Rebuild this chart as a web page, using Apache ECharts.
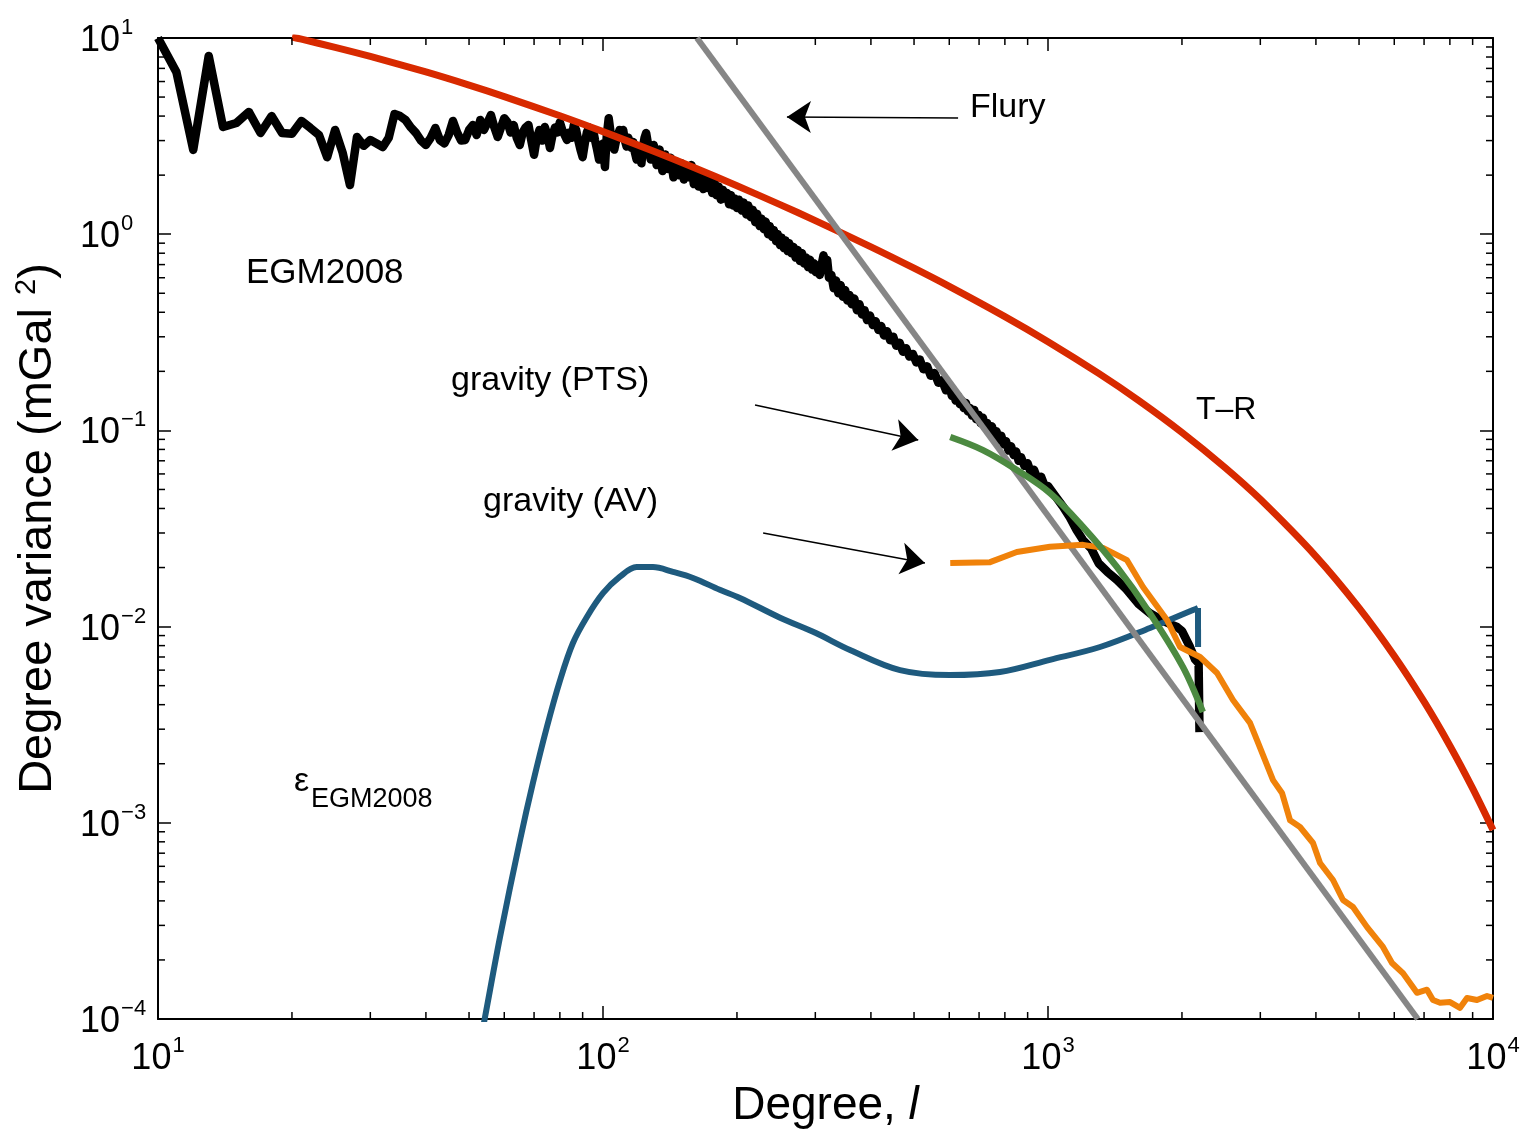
<!DOCTYPE html>
<html>
<head>
<meta charset="utf-8">
<script src="https://cdn.jsdelivr.net/npm/echarts@6.0.0/dist/echarts.min.js"></script>
<style>
html,body{margin:0;padding:0;background:#fff;}
#chart{width:1527px;height:1135px;}
</style>
</head>
<body>
<div id="chart"></div>
<script>
// ---------------- DATA ----------------
const X_MIN = 10, X_MAX = 10000;
const Y_MIN = 1e-4, Y_MAX = 10;

// EGM2008 degree variances [degree, mGal^2]
const egm2008 = [
 [10,10.0],[11,6.7],[12,2.69],[13,8.1],[14,3.52],[15,3.69],[16,4.2],[17,3.28],[18,4.0],[19,3.28],[20,3.25],
 [21,3.78],[22,3.48],[23,3.2],[24,2.47],[25,3.4],[26,2.6],[27,1.78],[28,3.13],[29,2.82],[30,3.02],[31,2.9],
 [32,2.78],[33,3.1],[34,4.1],[35,4.0],[36,3.82],[37,3.5],[38,3.28],[39,3.0],[40,2.85],[41,3.1],[42,3.48],
 [43,3.02],[44,2.9],[45,3.2],[46,3.78],[47,3.3],[48,3.0],[49,3.02],[50,3.4],[51,3.6],[52,3.2],[53,3.82],
 [54,3.4],[55,3.7],[56,4.05],[57,3.5],[58,3.13],[59,3.5],[60,3.9],[61,3.72],[62,3.3],[63,3.6],[64,3.1],
 [65,2.85],[66,3.3],[67,3.5],[68,3.6],[69,3.0],[70,2.54],[71,3.1],[72,3.4],[73,3.0],[74,3.52],[75,3.2],
 [76,2.75],[77,3.2],[78,3.5],[79,3.3],[80,3.72],[81,3.4],[82,3.2],[83,3.02],[84,3.3],[85,3.1],[86,3.6],
 [87,3.4],[88,3.0],[89,2.7],[90,2.47],[91,2.9],[92,3.3],[93,3.5],[94,3.1],[95,3.4],[96,3.0],[97,2.7],
 [98,2.4],[99,2.6],[100,2.9],[101,2.2],[102,3.2],[103,3.9],[104,3.3],[105,2.9],[106,2.7],[107,3.0],
 [108,3.2],[109,3.4],[110,3.1],[111,3.4],[112,3.0],[113,2.8],[114,3.1],[115,2.9],[116,2.75],[117,2.95],
 [118,2.6],[119,2.4],[120,2.7],[121,2.5],[122,2.3],[123,2.8],[124,3.1],[125,3.28],
 [126,2.95],[128,2.4],[130,2.85],[132,2.25],[134,2.7],[136,2.1],[138,2.55],[140,2.15],[142,2.45],[144,1.95],
 [146,2.35],[148,2.0],[150,2.3],[152,1.9],[154,2.2],[156,1.95],[158,2.25],[160,1.8],[162,2.1],[164,1.75],
 [166,2.05],[168,1.7],[170,1.98],[172,1.72],[174,1.92],[176,1.62],[178,1.85],[180,1.58],[182,1.75],
 [184,1.5],[186,1.68],[188,1.52],[190,1.62],[192,1.42],[194,1.58],[196,1.4],[198,1.52],[200,1.36],
 [202,1.5],[205,1.32],[207,1.45],[210,1.26],[212,1.4],[215,1.22],[217,1.33],[220,1.15],[222,1.27],
 [225,1.1],[227,1.2],[230,1.06],[232,1.16],[235,1.0],[237,1.1],[240,0.97],[242,1.05],[245,0.92],
 [247,1.0],[250,0.88],[252,0.96],[255,0.85],[257,0.93],[260,0.82],[262,0.9],[265,0.8],[268,0.86],
 [271,0.76],[274,0.83],[277,0.73],[280,0.8],[283,0.71],[286,0.76],[289,0.68],[292,0.74],[295,0.66],
 [298,0.71],[301,0.64],[304,0.69],[307,0.62],[310,0.7],[313,0.78],[316,0.7],[319,0.74],[322,0.6],
 [326,0.62],[330,0.53],[334,0.58],[338,0.5],[342,0.55],[346,0.48],[350,0.52],[354,0.46],[358,0.49],
 [362,0.44],[367,0.47],[372,0.41],[377,0.44],[382,0.39],[387,0.41],[392,0.365],[398,0.385],[404,0.345],
 [410,0.36],[416,0.325],[422,0.34],[428,0.305],[435,0.32],[442,0.288],[449,0.3],[456,0.27],[464,0.28],
 [472,0.252],[480,0.262],[488,0.238],[497,0.245],[506,0.222],[515,0.23],[525,0.205],[535,0.212],
 [545,0.19],[556,0.196],[567,0.175],[578,0.18],[590,0.16],[602,0.165],[608,0.15],[614,0.155],[620,0.142],
 [627,0.15],[634,0.136],[640,0.142],[647,0.13],[654,0.138],[661,0.125],[668,0.13],[675,0.119],[683,0.127],
 [690,0.114],[698,0.12],[706,0.109],[714,0.116],[722,0.104],[730,0.109],[739,0.099],[748,0.105],
 [757,0.094],[766,0.099],[775,0.089],[785,0.094],[795,0.085],[805,0.088],[815,0.079],[826,0.083],
 [837,0.075],[848,0.078],[859,0.07],[870,0.073],[885,0.066],[900,0.068],[915,0.061],[930,0.063],
 [948,0.056],[965,0.058],[983,0.052],[1000,0.052],[1040,0.046],[1080,0.041],[1120,0.036],
 [1160,0.031],[1199,0.0276],[1250,0.025],[1300,0.021],[1360,0.019],[1429,0.0173],[1500,0.0155],
 [1600,0.013],[1694,0.0117],[1800,0.0108],[1900,0.0102],[1950,0.00995],[2000,0.0095],[2085,0.00787],
 [2140,0.0068],[2180,0.0065],[2190,0.0029]
];

// Tscherning–Rapp model
const tscherningRapp = [
 [20,10.12],[21,9.861],[25,8.963],[30,8.057],[40,6.711],[50,5.751],[60,5.029],[80,4.014],[100,3.332],
 [130,2.646],[160,2.186],[200,1.766],[250,1.415],[300,1.173],[400,0.862],[500,0.671],[600,0.542],
 [800,0.380],[1000,0.2832],[1300,0.1952],[1600,0.1419],[2000,0.09763],[2500,0.06464],[3000,0.04454],
 [4000,0.02282],[5000,0.01246],[6000,0.007085],[7000,0.004142],[8000,0.002471],[9000,0.001498],
 [10000,0.000919]
];

// Flury power law (straight line in log-log)
const flury = [[162.6,10],[6776,1e-4]];

// Error degree variances of EGM2008 (last point: drop at the maximum degree)
const epsEGM2008 = [
 [52.5,6.8e-5],[54.3,1.02e-4],[58.7,2.62e-4],[65.1,8.17e-4],[69.6,1.60e-3],[74.8,3.08e-3],[80.1,5.34e-3],
 [85.6,8.25e-3],[92,1.12e-2],[100,1.48e-2],[109,1.79e-2],[119,2.01e-2],[129.5,2.01e-2],[143.6,1.90e-2],
 [159.3,1.77e-2],[183,1.54e-2],[203,1.40e-2],[250,1.11e-2],[300,9.3e-3],[359,7.6e-3],[465,6.0e-3],
 [602,5.66e-3],[780,5.87e-3],[1010,6.77e-3],[1309,7.87e-3],[1695,9.84e-3],[2118,1.216e-2],
 [2173,1.245e-2],[2174,7.87e-3]
];

// gravity (PTS)
const gravityPTS = [
 [603,0.0926],[714,0.0794],[851,0.0629],[1010,0.048],[1199,0.0322],[1429,0.0201],[1694,0.0117],
 [2010,0.00622],[2228,0.00367]
];

// gravity (AV)
const gravityAV = [
 [603,0.0211],[741,0.0213],[851,0.0240],[1010,0.0255],[1199,0.0261],[1329,0.0252],[1505,0.0218],
 [1635,0.0159],[1851,0.0108],[1980,0.00787],[2196,0.0070],[2398,0.0058],[2604,0.00423],[2844,0.00323],
 [2949,0.00264],[3204,0.00165],[3356,0.00142],[3499,0.00103],[3684,0.000952],[3940,0.000789],
 [4086,0.000624],[4370,0.000511],[4602,0.000404],[4846,0.000372],[5212,0.000294],[5659,0.000233],
 [5930,0.000193],[6278,0.000171],[6748,0.000136],[7107,0.000141],[7331,0.000125],[7603,0.000121],
 [8007,0.000122],[8432,0.000114],[8743,0.000128],[9205,0.000125],[9695,0.000131],[10000,0.000128]
];

// annotation arrows: [tail, head] in data coordinates
const arrowFlury = [[628,3.91],[259,3.96]];
const arrowPTS = [[219.6,0.1348],[511,0.0893]];
const arrowAV = [[229,0.030],[529,0.0211]];

// minor tick multipliers
const xDecades = [10,100,1000];
const yDecades = [1e-4,1e-3,1e-2,1e-1,1];
const minorMult = [2,3,4,5,6,7,8,9];

// ---------------- CHART ----------------
const FONT = '"Liberation Sans", Arial, Helvetica, sans-serif';
const chart = echarts.init(document.getElementById('chart'), null, {renderer:'canvas'});

function powLabel(v){
  const e = Math.round(Math.log10(v));
  const es = e < 0 ? '\u2212' + (-e) : String(e);
  return '{b|10}{e|' + es + '}';
}
const tickRich = {
  b:{fontSize:36, fontFamily:FONT, color:'#000', verticalAlign:'bottom'},
  e:{fontSize:22, fontFamily:FONT, color:'#000', verticalAlign:'bottom', padding:[0,0,20,1]}
};

const xMinor = [];
xDecades.forEach(d => minorMult.forEach(m => xMinor.push([d*m, Y_MIN])));
const yMinor = [];
yDecades.forEach(d => minorMult.forEach(m => yMinor.push([X_MIN, d*m])));

const axisLine = {show:true, onZero:false, lineStyle:{color:'#000', width:2}};
const majorTick = {show:true, inside:true, length:13, lineStyle:{color:'#000', width:1.5}};

function tickLine(x1,y1,x2,y2){
  return {type:'line', shape:{x1,y1,x2,y2}, style:{stroke:'#000', lineWidth:1.5}};
}

const lineBase = {type:'line', showSymbol:false, symbol:'none', animation:false, silent:true, clip:true};
const blueColor = '#1e5a7e';

const option = {
  animation:false,
  backgroundColor:'#fff',
  grid:{left:158, right:34, top:38, bottom:116, containLabel:false, outerBoundsMode:'none'},
  xAxis:[
    {type:'log', logBase:10, min:X_MIN, max:X_MAX, position:'bottom',
     axisLine, axisTick:majorTick, splitLine:{show:false},
     axisLabel:{show:true, margin:16, formatter:powLabel, rich:tickRich, showMinLabel:true, showMaxLabel:true},
     name:'{a|Degree, }{i|l}', nameLocation:'middle', nameGap:64,
     nameTextStyle:{rich:{a:{fontSize:46, fontFamily:FONT, color:'#000'}, i:{fontSize:46, fontFamily:FONT, fontStyle:'italic', color:'#000'}}}
    },
    {type:'log', logBase:10, min:X_MIN, max:X_MAX, position:'top',
     axisLine, axisTick:majorTick, axisLabel:{show:false}, splitLine:{show:false}}
  ],
  yAxis:[
    {type:'log', logBase:10, min:Y_MIN, max:Y_MAX, position:'left',
     axisLine, axisTick:majorTick, splitLine:{show:false},
     axisLabel:{show:true, align:'left', margin:78, formatter:powLabel, rich:tickRich, showMinLabel:true, showMaxLabel:true},
     name:'{a|Degree variance (mGal }{s|2}{a|)}', nameLocation:'middle', nameGap:96, nameRotate:90,
     nameTextStyle:{rich:{a:{fontSize:47, fontFamily:FONT, color:'#000', verticalAlign:'bottom'},
                          s:{fontSize:29, fontFamily:FONT, color:'#000', verticalAlign:'bottom', padding:[0,0,21,0]}}}
    },
    {type:'log', logBase:10, min:Y_MIN, max:Y_MAX, position:'right',
     axisLine, axisTick:majorTick, axisLabel:{show:false}, splitLine:{show:false}}
  ],
  series:[
    Object.assign({}, lineBase, {name:'EGM2008', data:egm2008, z:2,
      lineStyle:{color:'#000000', width:8.5, join:'round', cap:'butt'}}),
    Object.assign({}, lineBase, {name:'T-R', data:tscherningRapp, z:3, smooth:0.3,
      lineStyle:{color:'#d82a00', width:7, join:'round'}}),
    Object.assign({}, lineBase, {name:'eps EGM2008', data:epsEGM2008.slice(0, -1), z:4, smooth:0.35,
      lineStyle:{color:blueColor, width:6, join:'round'}}),
    Object.assign({}, lineBase, {name:'eps EGM2008 end', data:epsEGM2008.slice(-2), z:4,
      lineStyle:{color:blueColor, width:6, join:'miter'}}),
    Object.assign({}, lineBase, {name:'Flury', data:flury, z:5,
      lineStyle:{color:'#868686', width:6},
      markLine:{silent:true, animation:false, symbol:['none','arrow'], symbolSize:24,
        label:{show:false}, emphasis:{disabled:true},
        lineStyle:{color:'#000', width:1.5, type:'solid'},
        data:[
          [{coord:arrowFlury[0]},{coord:arrowFlury[1]}],
          [{coord:arrowPTS[0]},{coord:arrowPTS[1]}],
          [{coord:arrowAV[0]},{coord:arrowAV[1]}]
        ]}}),
    Object.assign({}, lineBase, {name:'gravity (AV)', data:gravityAV, z:6,
      lineStyle:{color:'#f0820a', width:6, join:'round'}}),
    Object.assign({}, lineBase, {name:'gravity (PTS)', data:gravityPTS, z:7, smooth:0.35,
      lineStyle:{color:'#4c8a41', width:6.5, join:'round'}}),
    {type:'custom', name:'xMinor', data:xMinor, silent:true, clip:false, z:10, animation:false,
     encode:{x:0, y:1},
     renderItem:function(params, api){
       const m = api.value(0);
       const pb = api.coord([m, Y_MIN]);
       const pt = api.coord([m, Y_MAX]);
       return {type:'group', children:[
         tickLine(pb[0], pb[1], pb[0], pb[1]-7),
         tickLine(pt[0], pt[1], pt[0], pt[1]+7)
       ]};
     }},
    {type:'custom', name:'yMinor', data:yMinor, silent:true, clip:false, z:10, animation:false,
     encode:{x:0, y:1},
     renderItem:function(params, api){
       const m = api.value(1);
       const pl = api.coord([X_MIN, m]);
       const pr = api.coord([X_MAX, m]);
       return {type:'group', children:[
         tickLine(pl[0], pl[1], pl[0]+7, pl[1]),
         tickLine(pr[0], pr[1], pr[0]-7, pr[1])
       ]};
     }}
  ],
  graphic:[
    {type:'text', x:970, y:108, silent:true, style:{text:'Flury', fontSize:34, fontFamily:FONT, fill:'#000', verticalAlign:'middle'}},
    {type:'text', x:246, y:273, silent:true, style:{text:'EGM2008', fontSize:35, fontFamily:FONT, fill:'#000', verticalAlign:'middle'}},
    {type:'text', x:451, y:381, silent:true, style:{text:'gravity (PTS)', fontSize:34, fontFamily:FONT, fill:'#000', verticalAlign:'middle'}},
    {type:'text', x:1196, y:410, silent:true, style:{text:'T\u2013R', fontSize:32, fontFamily:FONT, fill:'#000', verticalAlign:'middle'}},
    {type:'text', x:483, y:502, silent:true, style:{text:'gravity (AV)', fontSize:34, fontFamily:FONT, fill:'#000', verticalAlign:'middle'}},
    {type:'text', x:294, y:782, silent:true, style:{text:'\u03b5', fontSize:34, fontFamily:FONT, fill:'#000', verticalAlign:'middle'}},
    {type:'text', x:311, y:800, silent:true, style:{text:'EGM2008', fontSize:27, fontFamily:FONT, fill:'#000', verticalAlign:'middle'}}
  ]
};
chart.setOption(option);
</script>
</body>
</html>
